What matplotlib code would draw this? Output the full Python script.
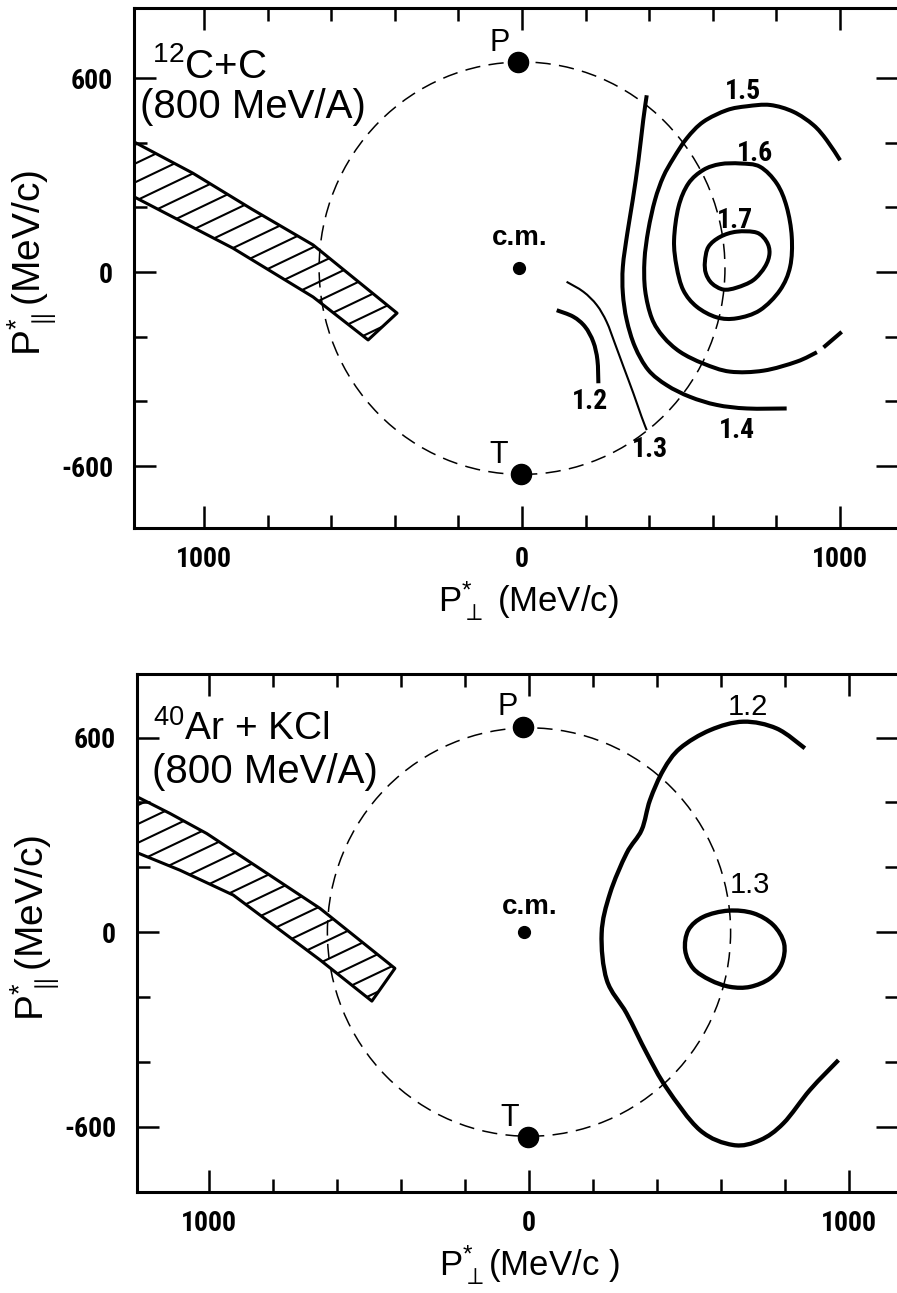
import numpy as np
import matplotlib
matplotlib.use("Agg")
import matplotlib.pyplot as plt
from matplotlib import font_manager
from matplotlib.patches import Circle, Polygon, PathPatch
from matplotlib.path import Path
from matplotlib.ticker import FixedLocator, FuncFormatter

nan = np.nan

# ---- top panel: 12C + C ----
c12_band_up_x = [-1230, -1035, -850, -657, -393]
c12_band_up_y = [408, 306, 195, 84, -127]
c12_band_lo_x = [-1230, -909, -657, -484]
c12_band_lo_y = [238, 74, -77, -210]

c12_levels = ["1.2", "1.3", "1.4", "1.5", "1.6", "1.7"]
c12_x = {
    "1.2": [109, 161, 198, 224, 237, 240],
    "1.3": [140, 193, 235, 266, 292, 319, 350, 376, 392],
    "1.4": [392, 381, 366, 348, 331, 317, 317, 329, 355, 397, 455, 528, 612, 707, 832],
    "1.5": [1000, 958, 916, 853, 780, 707, 644, 570, 518, 476, 444, 418, 397, 385,
            387, 408, 444, 497, 570, 654, 759, 864, 927, nan, 948, 1005],
    "1.6": [686, 748, 801, 832, 848, 843, 811, 748, 675, 612, 549, 507, 486, 478,
            492, 523, 570, 623, 686],
    "1.7": [575, 586, 623, 675, 738, 769, 778, 764, 727, 675, 633, 597, 578, 575],
}
c12_y = {
    "1.2": [-118, -138, -169, -216, -272, -344],
    "1.3": [-30, -61, -102, -154, -221, -293, -375, -448, -489],
    "1.4": [547, 470, 346, 223, 120, 17, -66, -148, -231, -303, -350, -386, -411, -422, -422],
    "1.5": [346, 408, 455, 496, 517, 513, 501, 465, 414, 352, 295, 223, 130, 37,
            -56, -143, -200, -247, -283, -308, -305, -277, -248, nan, -233, -185],
    "1.6": [336, 326, 274, 202, 109, 17, -56, -118, -143, -140, -107, -56, 17, 99,
            202, 274, 316, 334, 336],
    "1.7": [32, 78, 109, 125, 122, 94, 58, 17, -25, -48, -54, -35, -4, 32],
}
c12_lab_x = [214, 402, 675, 696, 733, 670]
c12_lab_y = [-401, -550, -489, 558, 367, 161]
c12_lw = {"1.2": 2.9, "1.3": 1.5, "1.4": 2.9, "1.5": 2.9, "1.6": 2.9, "1.7": 2.9}

c12_P = (-13, 650)
c12_T = (-3, -625)
c12_cm = (-9, 12)
c12_circle = ((0, 12), 638)
c12_Plab = (-69, 708)
c12_Tlab = (-75, -566)
c12_cmlab = (-6, 105)

# ---- bottom panel: 40Ar + KCl ----
ar_band_up_x = [-1230, -1122, -1007, -653, -419]
ar_band_up_y = [420, 366, 304, 73, -112]
ar_band_lo_x = [-1230, -1091, -924, -653, -491]
ar_band_lo_y = [247, 191, 114, -86, -213]

ar_levels = ["1.2", "1.3"]
ar_x = {
    "1.2": [862, 774, 670, 566, 472, 420, 378, 352, 305, 253, 227, 243, 305, 368,
            430, 534, 638, 722, 795, 878, 967],
    "1.3": [623, 701, 763, 797, 790, 753, 691, 628, 566, 513, 488, 498, 545, 623],
}
ar_y = {
    "1.2": [567, 628, 649, 623, 567, 500, 407, 315, 243, 119, -4, -148, -251, -374,
            -481, -611, -657, -642, -590, -487, -395],
    "1.3": [66, 58, 22, -35, -97, -143, -169, -169, -148, -112, -56, 6, 47, 66],
}
ar_lab_x = [684, 691]
ar_lab_y = [694, 145]

ar_P = (-18, 633)
ar_T = (-2, -631)
ar_cm = (-16, 1)
ar_circle = ((0, 0), 630)
ar_Plab = (-66, 694)
ar_Tlab = (-59, -574)
ar_cmlab = (3, 77)

x_major = [-1000, 0, 1000]
x_minor = [-800, -600, -400, -200, 200, 400, 600, 800]
y_major = [-600, 0, 600]
y_minor = [-400, -200, 200, 400]

names = {f.name for f in font_manager.fontManager.ttflist}
NARROW = next((n for n in ["Liberation Sans Narrow", "Roboto Condensed", "DejaVu Sans"]
               if n in names), "DejaVu Sans")

plt.rcParams.update({
    "font.family": ["Liberation Sans", "DejaVu Sans"],
    "mathtext.fontset": "custom",
    "mathtext.rm": "Liberation Sans",
    "mathtext.it": "Liberation Sans:italic",
    "mathtext.bf": "Liberation Sans:bold",
    "axes.unicode_minus": False,
    "lines.scale_dashes": False,
    "axes.linewidth": 2.2,
    "xtick.direction": "in",
    "ytick.direction": "in",
    "xtick.top": True,
    "ytick.right": True,
    "xtick.major.size": 16,
    "ytick.major.size": 16,
    "xtick.minor.size": 9.5,
    "ytick.minor.size": 9.5,
    "xtick.major.width": 1.8,
    "ytick.major.width": 1.8,
    "xtick.minor.width": 1.8,
    "ytick.minor.width": 1.8,
})

SLOPE = 0.47  # hatch direction


def smooth_path(x, y):
    # Catmull-Rom through the traced points, drawn as cubic Bezier pieces
    pts = np.column_stack([np.asarray(x, float), np.asarray(y, float)])
    breaks = np.where(np.isnan(pts[:, 0]))[0]
    verts, codes = [], []
    for seg in np.split(pts, breaks):
        seg = seg[~np.isnan(seg[:, 0])]
        n = len(seg)
        if n < 2:
            continue
        if np.allclose(seg[0], seg[-1]):
            ext = np.vstack([seg[-2], seg, seg[1]])
        else:
            ext = np.vstack([seg[0], seg, seg[-1]])
        verts.append(seg[0])
        codes.append(Path.MOVETO)
        for i in range(n - 1):
            p0, p1, p2, p3 = ext[i], ext[i + 1], ext[i + 2], ext[i + 3]
            verts += [p1 + (p2 - p0) / 6, p2 - (p3 - p1) / 6, p2]
            codes += [Path.CURVE4] * 3
    return Path(verts, codes)


def hatch_band(ax, ux, uy, lx, ly):
    vx = np.r_[ux, lx[::-1]]
    vy = np.r_[uy, ly[::-1]]
    poly = Polygon(np.column_stack([vx, vy]), closed=True, fill=False,
                   lw=2.2, ec="k", joinstyle="round", zorder=3)
    ax.add_patch(poly)
    c = vy - SLOPE * vx
    xs = np.array([-1600.0, 0.0])
    for ci in np.arange(c.min() + 20, c.max(), 58):
        ln, = ax.plot(xs, ci + SLOPE * xs, color="k", lw=1.5, zorder=2)
        ln.set_clip_path(poly)


def panel(ax, xlim, ylim, band, levels, cx, cy, lab_x, lab_y, lws, lab_font,
          P, T, cm, circ, Plab, Tlab, cmlab, xlabel):
    ax.set_xlim(*xlim)
    ax.set_ylim(*ylim)
    ax.spines["right"].set_visible(False)
    ax.xaxis.set_major_locator(FixedLocator(x_major))
    ax.xaxis.set_minor_locator(FixedLocator(x_minor))
    ax.yaxis.set_major_locator(FixedLocator(y_major))
    ax.yaxis.set_minor_locator(FixedLocator(y_minor))
    ax.xaxis.set_major_formatter(FuncFormatter(lambda v, p: "%d" % abs(v)))
    ax.yaxis.set_major_formatter(FuncFormatter(lambda v, p: "%d" % v))
    ax.tick_params(axis="x", which="both", pad=13)
    ax.tick_params(axis="y", which="both", pad=15)
    ax.tick_params(labelsize=20, labelfontfamily=NARROW)
    for t in ax.get_xticklabels() + ax.get_yticklabels():
        t.set_fontweight("bold")

    hatch_band(ax, *band)

    ax.add_patch(Circle(circ[0], circ[1], fill=False, ls=(0, (11, 6)), lw=1.1,
                        ec="k", zorder=2))
    for lev, tx, ty in zip(levels, lab_x, lab_y):
        ax.add_patch(PathPatch(smooth_path(cx[lev], cy[lev]), fill=False, ec="k",
                               lw=lws.get(lev, 3.1), capstyle="butt",
                               joinstyle="round", zorder=4))
        ax.text(tx, ty, lev, ha="center", va="center", zorder=5, **lab_font)

    ax.plot(*P, "o", color="k", ms=14.5, zorder=5)
    ax.plot(*T, "o", color="k", ms=14.5, zorder=5)
    ax.plot(*cm, "o", color="k", ms=8.5, zorder=5)
    ax.text(*Plab, "P", fontsize=22, ha="center", va="center")
    ax.text(*Tlab, "T", fontsize=22, ha="center", va="center")
    ax.text(*cmlab, "c.m.", fontsize=20, fontweight="bold", ha="center", va="center")

    ax.set_ylabel(r"$\mathrm{P}^{*}_{\parallel}$(MeV/c)", fontsize=28)
    ax.yaxis.set_label_coords(-0.10, 0.51)
    ax.set_xlabel(xlabel, fontsize=25)
    ax.xaxis.set_label_coords(0.516, -0.098)
    ax.xaxis.label.set_va("top")


fig = plt.figure(figsize=(8.97, 12.93), dpi=100)
ax1 = fig.add_axes([0.1494, 0.5916, 0.8517, 0.4022])
ax2 = fig.add_axes([0.1527, 0.0781, 0.8484, 0.4006])

bold_narrow = dict(fontsize=20, fontweight="bold", fontfamily=NARROW)
plain = dict(fontsize=21)

panel(ax1, (-1220, 1182), (-792, 817),
      (c12_band_up_x, c12_band_up_y, c12_band_lo_x, c12_band_lo_y),
      c12_levels, c12_x, c12_y, c12_lab_x, c12_lab_y, c12_lw, bold_narrow,
      c12_P, c12_T, c12_cm, c12_circle, c12_Plab, c12_Tlab, c12_cmlab,
      r"$\mathrm{P}^{*}_{\perp}$ (MeV/c)")
ax1.text(-1164, 600, r"$^{12}$C+C", fontsize=29, ha="left", va="baseline")
ax1.text(-1201, 476, "(800 MeV/A)", fontsize=29, ha="left", va="baseline")

panel(ax2, (-1225, 1153), (-802, 796),
      (ar_band_up_x, ar_band_up_y, ar_band_lo_x, ar_band_lo_y),
      ar_levels, ar_x, ar_y, ar_lab_x, ar_lab_y, {}, plain,
      ar_P, ar_T, ar_cm, ar_circle, ar_Plab, ar_Tlab, ar_cmlab,
      r"$\mathrm{P}^{*}_{\perp}$(MeV/c )")
ax2.text(-1175, 592, r"$^{40}$Ar + KCl", fontsize=28, ha="left", va="baseline")
ax2.text(-1178, 460, "(800 MeV/A)", fontsize=29, ha="left", va="baseline")

fig.savefig("out.png", dpi=100)
